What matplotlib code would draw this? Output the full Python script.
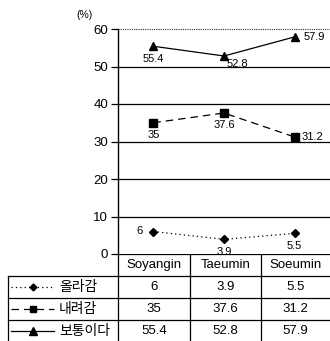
import matplotlib.pyplot as plt
from matplotlib.lines import Line2D

plt.rcParams['font.family'] = ['Liberation Sans', 'Noto Sans CJK KR', 'DejaVu Sans']

groups = ["Soyangin", "Taeumin", "Soeumin"]
series_names = ["올라감", "내려감", "보통이다"]
up = [6, 3.9, 5.5]
down = [35, 37.6, 31.2]
normal = [55.4, 52.8, 57.9]
y_ticks = [0, 10, 20, 30, 40, 50, 60]

styles = [
    dict(linestyle=(0, (1, 2.5)), marker="D", markersize=4, lw=0.9),
    dict(linestyle=(0, (6, 4)), marker="s", markersize=5.5, lw=0.9),
    dict(linestyle="-", marker="^", markersize=6, lw=0.9),
]
# label offsets (points) for each series/point
offsets = [
    [(-10, 0), (0, -9), (0, -9)],
    [(0, -9), (0, -9), (13, 0)],
    [(0, -9), (10, -6), (14, 0)],
]

W, H = 330, 341
fig = plt.figure(figsize=(W / 100, H / 100), dpi=100)

x0, x1 = 118, 330
ytop, ybot = 29, 254
ax = fig.add_axes([x0 / W, 1 - ybot / H, (x1 - x0) / W, (ybot - ytop) / H])
ax.set_xlim(-0.5, len(groups) - 0.5)
ax.set_ylim(0, 60)
for v in y_ticks[1:-1]:
    ax.axhline(v, color="black", lw=0.9, zorder=1)
ax.axhline(60, color="#333333", lw=0.8, linestyle=(0, (1, 1)), zorder=1, clip_on=False)
for s in ["top", "right", "bottom"]:
    ax.spines[s].set_visible(False)
ax.spines["left"].set_linewidth(1.0)
ax.set_yticks(y_ticks)
ax.tick_params(axis="y", length=5, width=0.9, labelsize=9.5, pad=2)
ax.set_xticks([])
ax.text(-0.16, 1.05, "(%)", transform=ax.transAxes, fontsize=7.5, ha="center")

xs = range(len(groups))
for vals, st, offs in zip([up, down, normal], styles, offsets):
    ax.plot(xs, vals, color="black", clip_on=False, zorder=3, **st)
    for x, v, (dx, dy) in zip(xs, vals, offs):
        ax.annotate(f"{v:g}", (x, v), xytext=(dx, dy), textcoords="offset points",
                    ha="center", va="center", fontsize=8)

# data table below the plot
tab = fig.add_axes([0, 0, 1, 1 - ybot / H])
tab.set_xlim(0, W)
tab.set_ylim(H, ybot)
tab.axis("off")
col_edges = [x0, 190, 261, x1]
row_edges = [ybot, 276, 298, 320, H]
lk = dict(color="black", lw=0.9)
tab.plot([x0, x1], [ybot, ybot], **lk)
for y in row_edges[1:-1]:
    tab.plot([8, x1], [y, y], **lk)
tab.plot([8, 8], [row_edges[1], H], **lk)
for x in col_edges[:-1]:
    tab.plot([x, x], [ybot, H], **lk)
for j, g in enumerate(groups):
    cx = (col_edges[j] + col_edges[j + 1]) / 2
    tab.text(cx, (row_edges[0] + row_edges[1]) / 2, g, ha="center", va="center", fontsize=9.5)
for i, (vals, name, st) in enumerate(zip([up, down, normal], series_names, styles)):
    cy = (row_edges[i + 1] + row_edges[i + 2]) / 2
    tab.add_line(Line2D([11, 54], [cy, cy], color="black", lw=st["lw"],
                        linestyle=st["linestyle"]))
    tab.plot([33], [cy], color="black", marker=st["marker"], markersize=st["markersize"] - 0.5)
    tab.text(59, cy, name, ha="left", va="center", fontsize=10,
             family=["Noto Sans CJK KR", "DejaVu Sans"])
    for j, v in enumerate(vals):
        cx = (col_edges[j] + col_edges[j + 1]) / 2
        tab.text(cx, cy, f"{v:g}", ha="center", va="center", fontsize=9.5)

fig.savefig("out.png", dpi=100)
